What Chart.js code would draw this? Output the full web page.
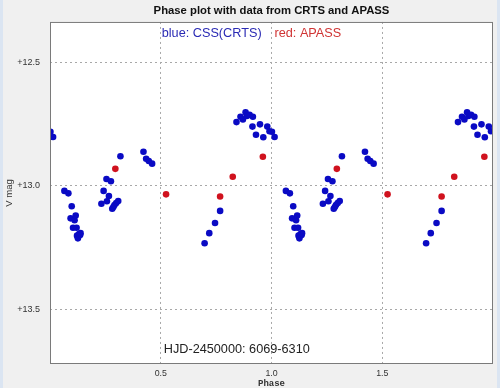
<!DOCTYPE html>
<html lang="en">
<head>
    <meta charset="UTF-8">
    <title>Phase plot with data from CRTS and APASS</title>
    <script src="https://cdn.jsdelivr.net/npm/chart.js"></script>
    <style>
        html, body { margin: 0; padding: 0; background: #f0f0f0; }
        canvas { display: block; }
    </style>
</head>
<body>
    <canvas id="phaseChart" width="500" height="388"></canvas>

    <script>
        // CSS (CRTS) observations, one cycle (phase 0-1)
        const cssPhase = [0.002, 0.014, 0.065, 0.083, 0.098, 0.093, 0.111, 0.116, 0.104, 0.120,
                          0.122, 0.126, 0.131, 0.136, 0.138, 0.232, 0.242, 0.255, 0.257, 0.266,
                          0.275, 0.281, 0.286, 0.291, 0.299, 0.308, 0.318, 0.422, 0.434, 0.446,
                          0.461, 0.698, 0.719, 0.745, 0.768, 0.842, 0.860, 0.871, 0.883, 0.889,
                          0.901, 0.916, 0.914, 0.930, 0.948, 0.963, 0.981, 0.991];
        const cssMag = [12.782, 12.803, 13.021, 13.031, 13.083, 13.132, 13.140, 13.121, 13.170, 13.170,
                        13.202, 13.213, 13.196, 13.199, 13.192, 13.073, 13.021, 12.973, 13.063, 13.042,
                        12.982, 13.093, 13.086, 13.078, 13.070, 13.062, 12.881, 12.863, 12.891, 12.900,
                        12.911, 13.233, 13.192, 13.151, 13.102, 12.743, 12.721, 12.732, 12.703, 12.718,
                        12.713, 12.721, 12.761, 12.794, 12.752, 12.804, 12.761, 12.780];

        // APASS observations
        const apassPhase = [0.295, 0.524, 0.768, 0.825, 0.961];
        const apassMag = [12.932, 13.035, 13.044, 12.964, 12.883];

        // axis ticks
        const phaseTicks = [0.5, 1.0, 1.5];
        const magTicks = [12.5, 13.0, 13.5];

        // plot every observation twice: at phase and phase + 1
        function twoCycles(phase, mag) {
            const pts = [];
            for (let c = 0; c < 2; c++) {
                phase.forEach((p, i) => pts.push({ x: p + c, y: mag[i] }));
            }
            return pts;
        }

        const gridStyle = {
            color: '#a8a8a8',
            lineWidth: 1,
            drawTicks: false
        };

        const frame = {
            id: 'frame',
            beforeDraw(chart) {
                const { ctx, chartArea: a, width, height } = chart;
                ctx.save();
                ctx.fillStyle = '#f0f0f0';
                ctx.fillRect(0, 0, width, height);
                ctx.fillStyle = '#dbe5f2';
                ctx.fillRect(0, 0, 3, height);
                ctx.fillRect(width - 3, 0, 3, height);
                ctx.fillStyle = '#ffffff';
                ctx.fillRect(a.left, a.top, a.right - a.left, a.bottom - a.top);
                ctx.restore();
            },
            afterDraw(chart) {
                const { ctx, chartArea: a, scales } = chart;
                ctx.save();
                ctx.strokeStyle = '#7a7a7a';
                ctx.lineWidth = 1;
                ctx.strokeRect(a.left + 0.5, a.top + 0.5, a.right - a.left - 1, a.bottom - a.top - 1);

                // caption texts inside the plot
                const x05 = scales.x.getPixelForValue(0.5);
                const x10 = scales.x.getPixelForValue(1.0);
                ctx.font = '12.7px "Liberation Sans", Arial, sans-serif';
                ctx.textBaseline = 'middle';
                ctx.textAlign = 'left';
                ctx.fillStyle = '#2a2ab4';
                ctx.fillText('blue: CSS(CRTS)', x05 + 1, a.top + 12);
                ctx.fillStyle = '#d03434';
                ctx.fillText('red: APASS', x10 + 3, a.top + 12);
                ctx.fillStyle = '#222222';
                ctx.fillText('HJD-2450000: 6069-6310', x05 + 3, a.bottom - 15);
                ctx.restore();
            }
        };

        var phaseChart = new Chart(document.getElementById('phaseChart'), {
            type: 'scatter',
            plugins: [frame],
            data: {
                datasets: [{
                    label: 'CSS(CRTS)',
                    data: twoCycles(cssPhase, cssMag),
                    backgroundColor: '#0a0ac4',
                    borderWidth: 0,
                    pointRadius: 3.3
                }, {
                    label: 'APASS',
                    data: twoCycles(apassPhase, apassMag),
                    backgroundColor: '#d0121e',
                    borderWidth: 0,
                    pointRadius: 3.3
                }]
            },
            options: {
                responsive: false,
                animation: false,
                devicePixelRatio: 1,
                layout: { padding: { left: 0, right: 7, top: 0, bottom: 0 } },
                plugins: {
                    legend: { display: false },
                    tooltip: { enabled: false },
                    title: {
                        display: true,
                        text: 'Phase plot with data from CRTS and APASS',
                        fullSize: false,
                        color: '#111111',
                        font: { family: '"Liberation Sans", Arial, sans-serif', size: 11.3, weight: 'bold' },
                        padding: { top: 4, bottom: 4.4 }
                    }
                },
                scales: {
                    x: {
                        type: 'linear',
                        min: 0,
                        max: 2,
                        afterBuildTicks: scale => { scale.ticks = phaseTicks.map(v => ({ value: v })); },
                        afterFit: scale => { scale.height = 24; },
                        grid: Object.assign({}, gridStyle),
                        border: { display: false, dash: [2, 3] },
                        ticks: {
                            padding: 4,
                            color: '#333333',
                            font: { family: '"Liberation Sans", Arial, sans-serif', size: 8.8 },
                            callback: v => v.toFixed(1)
                        },
                        title: {
                            display: true,
                            text: 'Phase',
                            color: '#333333',
                            padding: 0,
                            font: { family: '"Liberation Mono", monospace', size: 9, weight: 'bold', lineHeight: 0.9 }
                        }
                    },
                    y: {
                        type: 'linear',
                        reverse: true,
                        min: 12.338,
                        max: 13.721,
                        afterBuildTicks: scale => { scale.ticks = magTicks.map(v => ({ value: v })); },
                        afterFit: scale => { scale.width = 50; },
                        grid: Object.assign({}, gridStyle),
                        border: { display: false, dash: [2, 3] },
                        ticks: {
                            padding: 10,
                            color: '#333333',
                            font: { family: '"Liberation Sans", Arial, sans-serif', size: 9 },
                            callback: v => '+' + v.toFixed(1)
                        },
                        title: {
                            display: true,
                            text: 'V mag',
                            color: '#333333',
                            padding: { top: 4, bottom: 0 },
                            font: { family: '"Liberation Sans", Arial, sans-serif', size: 9.5 }
                        }
                    }
                }
            }
        });
    </script>
</body>
</html>
